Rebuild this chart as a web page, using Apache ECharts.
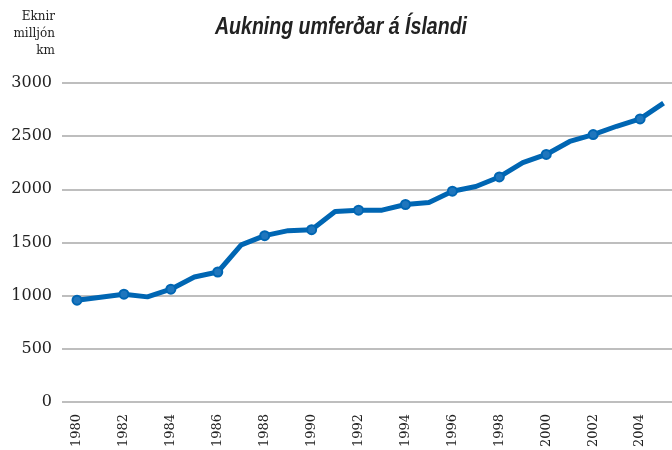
<!DOCTYPE html>
<html>
<head>
<meta charset="utf-8">
<script src="https://cdn.jsdelivr.net/npm/echarts@6/dist/echarts.min.js"></script>
<style>
  html, body { margin: 0; padding: 0; background: #fff; }
  #main { width: 672px; height: 450px; }
</style>
</head>
<body>
<div id="main"></div>
<script>
// ár og eknir milljón km
var years = [1980, 1981, 1982, 1983, 1984, 1985, 1986, 1987, 1988, 1989, 1990, 1991, 1992,
             1993, 1994, 1995, 1996, 1997, 1998, 1999, 2000, 2001, 2002, 2003, 2004, 2005];
var km = [957, 985, 1013, 988, 1060, 1175, 1222, 1477, 1564, 1611, 1620, 1792, 1804,
          1804, 1857, 1876, 1982, 2026, 2116, 2250, 2328, 2450, 2515, 2593, 2662, 2811];
var markedYears = [1980, 1982, 1984, 1986, 1988, 1990, 1992, 1994, 1996, 1998, 2000, 2002, 2004];

var chart = echarts.init(document.getElementById('main'));

var lineData = years.map(function (y, i) { return [y, km[i]]; });

var option = {
    animation: false,
    graphic: [
        {
            type: 'text',
            x: 341,
            y: 28,
            scaleX: 0.85,
            style: {
                text: 'Aukning umferðar á Íslandi',
                align: 'center',
                verticalAlign: 'middle',
                fontFamily: '"Liberation Sans", Arial, sans-serif',
                fontWeight: 'bold',
                fontStyle: 'italic',
                fontSize: 23,
                fill: '#222'
            }
        },
        {
            type: 'text',
            x: 55,
            y: 8,
            style: {
                text: 'Eknir\nmilljón\nkm',
                align: 'right',
                fontFamily: '"DejaVu Serif", serif',
                fontSize: 12,
                lineHeight: 17,
                fill: '#222'
            }
        }
    ],
    grid: {
        left: 62,
        right: 0,
        top: 83,
        bottom: 46
    },
    xAxis: {
        type: 'value',
        min: 1979.36,
        max: 2005.36,
        axisLine: { show: false },
        axisTick: { show: false },
        splitLine: { show: false },
        axisLabel: {
            customValues: markedYears,
            rotate: 90,
            margin: 12,
            fontFamily: '"DejaVu Serif", serif',
            fontSize: 13,
            color: '#222',
            formatter: function (v) { return String(v); }
        }
    },
    yAxis: {
        type: 'value',
        min: 0,
        max: 3000,
        interval: 500,
        axisLine: { show: false },
        axisTick: { show: false },
        splitLine: { lineStyle: { color: '#a8a8a8', width: 1.5 } },
        axisLabel: {
            margin: 10,
            fontFamily: '"DejaVu Serif", serif',
            fontSize: 16,
            color: '#222',
            formatter: function (v) { return String(v); }
        }
    },
    series: [
        {
            type: 'line',
            data: lineData,
            lineStyle: { color: '#0066b3', width: 5 },
            itemStyle: { color: '#1f76bd', borderColor: '#0066b3', borderWidth: 2 },
            symbol: 'circle',
            symbolSize: function (val) {
                return markedYears.indexOf(val[0]) >= 0 ? 9 : 0;
            }
        }
    ]
};

chart.setOption(option);
</script>
</body>
</html>
